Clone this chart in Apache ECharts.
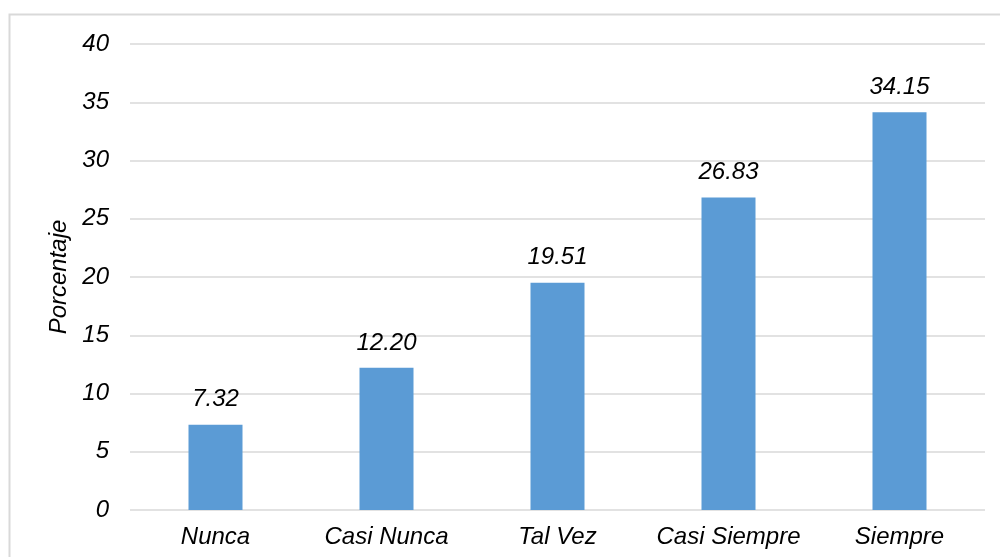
<!DOCTYPE html>
<html><head><meta charset="utf-8">
<script src="https://cdn.jsdelivr.net/npm/echarts@6/dist/echarts.min.js"></script>
<style>html,body{margin:0;padding:0;background:#fff}#c{width:1000px;height:557px}</style>
</head><body><div id="c"></div>
<script>
const categories = ['Nunca', 'Casi Nunca', 'Tal Vez', 'Casi Siempre', 'Siempre'];
const values = [7.32, 12.20, 19.51, 26.83, 34.15];
const yTicks = [0, 5, 10, 15, 20, 25, 30, 35, 40];
const yName = 'Porcentaje';

const font = '"Liberation Sans", Arial, sans-serif';
const chart = echarts.init(document.getElementById('c'), null, {renderer: 'canvas'});
chart.setOption({
  animation: false,
  backgroundColor: '#fff',
  graphic: [{type: 'rect', shape: {x: 9.5, y: 14.5, width: 1100, height: 700}, style: {fill: 'none', stroke: '#d9d9d9', lineWidth: 2}, silent: true}],
  grid: {left: 130, right: 15, top: 44, bottom: 47},
  xAxis: {
    type: 'category', data: categories,
    axisLine: {show: false}, axisTick: {show: false},
    axisLabel: {interval: 0, hideOverlap: false, fontFamily: font, fontStyle: 'italic', fontSize: 24, color: '#000', margin: 15}
  },
  yAxis: {
    type: 'value', min: yTicks[0], max: yTicks[yTicks.length - 1], interval: 5,
    name: yName, nameLocation: 'middle', nameGap: 56, nameRotate: 90,
    nameTextStyle: {fontFamily: font, fontStyle: 'italic', fontSize: 24, color: '#000'},
    axisLine: {show: false}, axisTick: {show: false},
    axisLabel: {fontFamily: font, fontStyle: 'italic', fontSize: 24, color: '#000', margin: 21},
    splitLine: {lineStyle: {color: '#d9d9d9', width: 1.5}}
  },
  series: [{
    type: 'bar', data: values, barWidth: 54,
    itemStyle: {color: '#5b9bd5'},
    label: {show: true, position: 'top', distance: 13, fontFamily: font, fontStyle: 'italic', fontSize: 24, color: '#000',
      formatter: p => p.value.toFixed(2)}
  }]
});
</script></body></html>
